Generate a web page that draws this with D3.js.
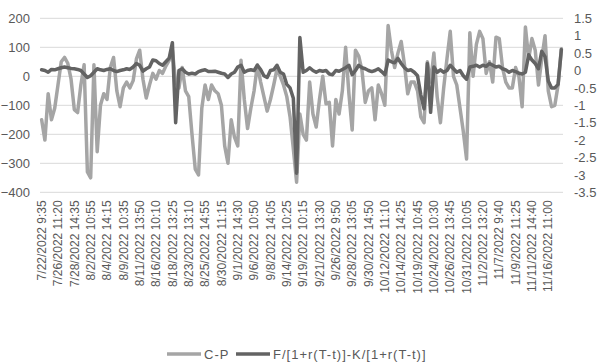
<!DOCTYPE html>
<html>
<head>
<meta charset="utf-8">
<script src="https://cdn.jsdelivr.net/npm/d3@7"></script>
<style>
  body { margin: 0; background: #fff; }
  text { font-family: "Liberation Sans", Arial, sans-serif; fill: #595959; }
</style>
</head>
<body>
<svg id="chart" width="606" height="363"></svg>
<script>
// tick labels shown on the category axis (one every 5 points)
var tickLabels = [
  "7/22/2022 9:35", "7/26/2022 11:20", "7/28/2022 14:35", "8/2/2022 10:55",
  "8/4/2022 14:15", "8/9/2022 10:35", "8/11/2022 13:50", "8/16/2022 10:10",
  "8/18/2022 13:25", "8/23/2022 13:10", "8/25/2022 14:55", "8/30/2022 11:15",
  "9/1/2022 14:30", "9/6/2022 10:50", "9/8/2022 14:05", "9/14/2022 10:25",
  "9/19/2022 10:15", "9/21/2022 13:30", "9/26/2022 9:50", "9/28/2022 13:05",
  "9/30/2022 14:50", "10/12/2022 11:10", "10/14/2022 14:25", "10/19/2022 10:45",
  "10/24/2022 10:30", "10/26/2022 13:45", "10/31/2022 10:05", "11/2/2022 13:20",
  "11/7/2022 9:40", "11/9/2022 11:25", "11/11/2022 14:40", "11/16/2022 11:00"
];
var labelEvery = 5;

// C-P (left axis)
var cpValues = [
  -150, -220, -60, -150, -110, -30, 50, 65, 45, -10,
  -115, -125, -30, 40, -330, -350, 40, -260, -100, -60,
  -80, 30, 65, -50, -105, -40, -20, -40, -15, 60,
  90, -10, -75, -30, 10, -10, 20, 10, 35, 55,
  90, -20, -40, 30, -50, -70, -200, -320, -340, -110,
  -30, -80, -30, -50, -60, -100, -240, -300, -150, -210,
  -240, 55, -80, -180, -110, -50, 40, -20, -70, -120,
  -80, -30, 25, 0, -30, -70, -140, -250, -365, -130,
  -200, -220, -20, -130, -175, -80, 0, -95, -90, -240,
  -80, -130, -50, 100, -60, -185, 90, 70, 20, -90,
  -50, -40, -150, -30, -60, -100, 175, 90, 30, 80,
  120, 40, -60, -20, -20, -50, -140, -160, 50, -20,
  80, -70, -160, -40, 60, 155, 0, -30, -110, -190,
  -285, 150, 0, 110, 155, 130, 10, 50, -20, 135,
  130, 30, -20, -40, -40, 30, 0, -105, 170, 60,
  130, 90, -30, 60, 140, -50, -105, -100, -30, 95
];

// F/[1+r(T-t)]-K/[1+r(T-t)] (right axis)
var fkValues = [
  0.02, 0.0, -0.05, 0.03, 0.02, 0.05, 0.08, 0.1, 0.08, 0.06,
  0.05, 0.03, 0.0, -0.1, -0.2, -0.15, -0.05, 0.05, 0.02, 0.0,
  0.03, 0.05, 0.0, -0.03, 0.0, 0.02, 0.05, 0.03, 0.1, 0.2,
  0.15, -0.02, 0.05, 0.1, 0.3, 0.28, 0.2, 0.15, 0.25, 0.35,
  0.8, -1.5, 0.0, 0.05, -0.05, -0.1, -0.08, -0.1, -0.03, 0.0,
  0.02, -0.03, -0.03, -0.02, -0.05, -0.08, -0.1, -0.2, -0.1, -0.05,
  0.1, 0.15, -0.05, 0.0, 0.02, 0.0, 0.15, 0.03, -0.15, -0.2,
  0.0, 0.02, 0.15, -0.05, -0.1, -0.4, -0.5, -0.8, -2.95, 0.95,
  -0.05, 0.0, 0.08, 0.0, -0.05, 0.0, -0.02, 0.0, -0.1, -0.12,
  0.0, -0.02, 0.03, 0.08, 0.15, -0.12, 0.0, 0.15, 0.08, 0.05,
  0.0, -0.03, 0.0, 0.05, -0.03, -0.12, 0.3, 0.25, 0.22, 0.35,
  0.2, 0.08, 0.0, 0.02, -0.05, -0.15, -0.7, -1.1, 0.2, -1.2,
  0.1, -0.05, 0.02, -0.05, 0.0, 0.15, 0.05, -0.05, 0.0, -0.15,
  -0.25, 0.1, 0.12, 0.15, 0.1, 0.15, 0.12, 0.2, 0.15, 0.1,
  0.12, 0.05, 0.02, -0.05, 0.0, -0.03, -0.08, -0.1, -0.05, 0.45,
  0.3, 0.2, 0.05, 0.55, 0.4, -0.3, -0.5, -0.5, -0.4, 0.6
];

var leftTicks = [-400, -300, -200, -100, 0, 100, 200];
var rightTicks = [-3.5, -3, -2.5, -2, -1.5, -1, -0.5, 0, 0.5, 1, 1.5];

var svg = d3.select("#chart");
var plot = { left: 40, right: 563, top: 18.3, bottom: 192.3 };

var x = d3.scaleBand()
  .domain(d3.range(cpValues.length))
  .range([plot.left, plot.right]);
var yL = d3.scaleLinear().domain([-400, 200]).range([plot.bottom, plot.top]);
var yR = d3.scaleLinear().domain([-3.5, 1.5]).range([plot.bottom, plot.top]);

function cx(i) { return x(i) + x.bandwidth() / 2; }

// gridlines
svg.append("g")
  .selectAll("line")
  .data(leftTicks)
  .enter().append("line")
  .attr("x1", plot.left)
  .attr("x2", plot.right)
  .attr("y1", function(d) { return yL(d); })
  .attr("y2", function(d) { return yL(d); })
  .attr("stroke", "#d9d9d9")
  .attr("stroke-width", 1);

// left axis
var gL = svg.append("g")
  .attr("transform", "translate(" + (plot.left - 8) + ",0)")
  .call(d3.axisLeft(yL).tickValues(leftTicks).tickSize(0).tickPadding(2));
gL.select(".domain").remove();
gL.selectAll("text").attr("font-size", 13).style("font-family", null);

// right axis
var gR = svg.append("g")
  .attr("transform", "translate(" + (plot.right + 9) + ",0)")
  .call(d3.axisRight(yR).tickValues(rightTicks).tickSize(0).tickPadding(2)
    .tickFormat(function(d) { return String(d); }));
gR.select(".domain").remove();
gR.selectAll("text").attr("font-size", 13).style("font-family", null);

// category axis labels (rotated)
var tickIdx = d3.range(tickLabels.length).map(function(k) { return k * labelEvery; });
var gX = svg.append("g")
  .attr("transform", "translate(0," + (plot.bottom + 8) + ")")
  .call(d3.axisBottom(x).tickValues(tickIdx).tickSize(0)
    .tickFormat(function(d) { return tickLabels[d / labelEvery]; }));
gX.select(".domain").remove();
gX.selectAll("text")
  .attr("font-size", 12)
  .style("font-family", null)
  .attr("text-anchor", "end")
  .attr("transform", "rotate(-90)")
  .attr("x", 0)
  .attr("y", 0)
  .attr("dy", "0.35em");

// lines
var lineL = d3.line()
  .x(function(d, i) { return cx(i); })
  .y(function(d) { return yL(d); });
var lineR = d3.line()
  .x(function(d, i) { return cx(i); })
  .y(function(d) { return yR(d); });

svg.append("path")
  .datum(cpValues)
  .attr("d", lineL)
  .attr("fill", "none")
  .attr("stroke", "#a5a5a5")
  .attr("stroke-width", 3.5)
  .attr("stroke-linejoin", "round")
  .attr("stroke-linecap", "round");

svg.append("path")
  .datum(fkValues)
  .attr("d", lineR)
  .attr("fill", "none")
  .attr("stroke", "#636363")
  .attr("stroke-width", 3.5)
  .attr("stroke-linejoin", "round")
  .attr("stroke-linecap", "round");

// legend
var legend = [
  { name: "C-P", color: "#a5a5a5", x: 167 },
  { name: "F/[1+r(T-t)]-K/[1+r(T-t)]", color: "#636363", x: 236 }
];
var lg = svg.append("g").selectAll("g")
  .data(legend)
  .enter().append("g")
  .attr("transform", function(d) { return "translate(" + d.x + ",354)"; });
lg.append("line")
  .attr("x1", 0).attr("x2", 34)
  .attr("stroke", function(d) { return d.color; })
  .attr("stroke-width", 3.5);
lg.append("text")
  .attr("x", 37)
  .attr("dy", "0.35em")
  .attr("font-size", 13)
  .attr("letter-spacing", 1)
  .text(function(d) { return d.name; });
</script>
</body>
</html>
